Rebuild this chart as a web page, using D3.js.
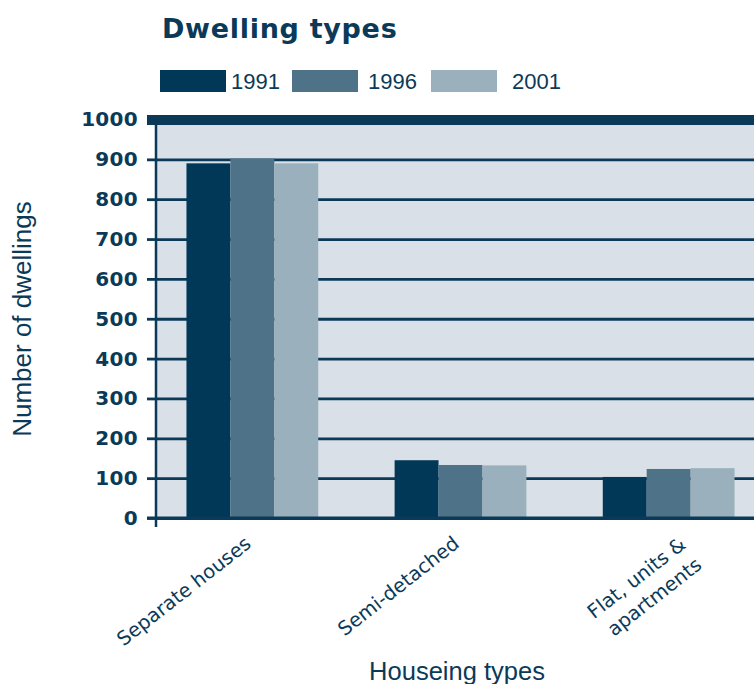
<!DOCTYPE html>
<html lang="en">
	<head>
		<meta charset="utf-8">
		<title>dwelling types</title>
		<script type="text/javascript" src="https://cdn.jsdelivr.net/npm/d3@7"></script>
		<style type="text/css">
			body { margin: 0; background: #fff; }
			.axis path { display: none; }
		</style>
	</head>

	<body>
		<script type="text/javascript">

			// chart size
			var w = 754;
			var h = 684;

			// data
			var categories = ["Separate houses", "Semi-detached", "Flat, units & apartments"];
			var years = ["1991", "1996", "2001"];
			var values1991 = [890, 145, 103];
			var values1996 = [902, 133, 123];
			var values2001 = [890, 132, 125];
			var yTicks = [0, 100, 200, 300, 400, 500, 600, 700, 800, 900, 1000];

			var colors = { "1991": "#013857", "1996": "#4e7288", "2001": "#9ab0bc" };
			var navy = "#0b3a58";

			var rows = categories.map(function(c, i) {
				return { cat: c, vals: [values1991[i], values1996[i], values2001[i]] };
			});

			var plotLeft = 156, plotRight = w;

			var yScale = d3.scaleLinear()
				.domain([0, 1000])
				.range([518, 119.5]);

			var xScale = d3.scaleBand()
				.domain(categories)
				.range([149, 772])
				.paddingInner(0.367)
				.paddingOuter(0.18);

			var x1 = d3.scaleBand()
				.domain(years)
				.range([0, xScale.bandwidth()]);

			var svg = d3.select("body")
				.append("svg")
				.attr("width", w)
				.attr("height", h);

			// plot background
			svg.append("rect")
				.attr("x", plotLeft)
				.attr("y", yScale(1000))
				.attr("width", plotRight - plotLeft)
				.attr("height", yScale(0) - yScale(1000))
				.attr("fill", "#d9e0e7");

			// gridlines
			var grid = svg.append("g")
				.attr("class", "axis")
				.attr("transform", "translate(" + plotLeft + ",0)")
				.call(d3.axisLeft(yScale).tickValues(yTicks).tickSize(-(plotRight - plotLeft)).tickFormat(""));
			grid.selectAll("line")
				.attr("stroke", navy)
				.attr("stroke-width", function(d) { return d === 1000 ? 10 : 2.8; });

			// bars
			var groups = svg.selectAll("g.group")
				.data(rows)
				.enter()
				.append("g")
				.attr("class", "group")
				.attr("transform", function(d) { return "translate(" + xScale(d.cat) + ",0)"; });

			groups.selectAll("rect")
				.data(function(d) { return d.vals.map(function(v, i) { return { year: years[i], v: v }; }); })
				.enter()
				.append("rect")
				.attr("x", function(d) { return x1(d.year); })
				.attr("y", function(d) { return yScale(d.v); })
				.attr("width", x1.bandwidth())
				.attr("height", function(d) { return yScale(0) - yScale(d.v); })
				.attr("fill", function(d) { return colors[d.year]; });

			// y axis with ticks and labels
			var yAxisG = svg.append("g")
				.attr("class", "axis")
				.attr("transform", "translate(" + plotLeft + ",0)")
				.call(d3.axisLeft(yScale).tickValues(yTicks).tickSize(9).tickPadding(9).tickFormat(d3.format("d")));
			yAxisG.selectAll("line")
				.attr("stroke", navy)
				.attr("stroke-width", function(d) { return d === 1000 ? 10 : 2.8; });
			yAxisG.selectAll("text")
				.attr("fill", navy)
				.style("font-family", "DejaVu Sans")
				.style("font-weight", "bold")
				.style("font-size", "20px")
				.style("letter-spacing", "0.3px");

			// vertical axis line
			svg.append("line")
				.attr("x1", plotLeft).attr("x2", plotLeft)
				.attr("y1", yScale(1000)).attr("y2", yScale(0) + 9)
				.attr("stroke", navy)
				.attr("stroke-width", 2.5);

			// baseline
			svg.append("line")
				.attr("x1", plotLeft - 9).attr("x2", plotRight)
				.attr("y1", yScale(0)).attr("y2", yScale(0))
				.attr("stroke", navy)
				.attr("stroke-width", 2.8);

			// x category labels
			var labelLines = [["Separate houses"], ["Semi-detached"], ["Flat, units &", "apartments"]];
			var xl = svg.append("g");
			categories.forEach(function(c, i) {
				var cx = xScale(c) + xScale.bandwidth() / 2;
				var multi = labelLines[i].length > 1;
				var t = xl.append("text")
					.attr("transform", "translate(" + cx + "," + 546 + ") rotate(-38)")
					.attr("text-anchor", "end")
					.attr("fill", navy)
					.style("font-family", "DejaVu Sans")
					.style("font-size", "19.5px");
				labelLines[i].forEach(function(line, j) {
					t.append("tspan")
						.attr("x", multi ? 14 : 0)
						.attr("y", multi ? 12 + j * 26 : 0)
						.text(line);
				});
			});

			// axis titles
			svg.append("text")
				.attr("x", 457)
				.attr("y", 680)
				.attr("text-anchor", "middle")
				.attr("fill", navy)
				.style("font-family", "Liberation Sans")
				.style("font-size", "25.5px")
				.text("Houseing types");

			svg.append("text")
				.attr("transform", "translate(31,319) rotate(-90)")
				.attr("text-anchor", "middle")
				.attr("fill", navy)
				.style("font-family", "Liberation Sans")
				.style("font-size", "26px")
				.text("Number of dwellings");

			// title
			svg.append("text")
				.attr("x", 162)
				.attr("y", 38)
				.attr("fill", navy)
				.style("font-family", "DejaVu Sans")
				.style("font-weight", "bold")
				.style("font-size", "27px")
				.style("letter-spacing", "0.7px")
				.text("Dwelling types");

			// legend
			var legendX = [160, 292, 431];
			var legendTextX = [231, 368, 512];
			var legend = svg.selectAll("g.legend")
				.data(years)
				.enter()
				.append("g")
				.attr("class", "legend");
			legend.append("rect")
				.attr("x", function(d, i) { return legendX[i]; })
				.attr("y", 70)
				.attr("width", 66)
				.attr("height", 22)
				.attr("fill", function(d) { return colors[d]; });
			legend.append("text")
				.attr("x", function(d, i) { return legendTextX[i]; })
				.attr("y", 88.5)
				.attr("fill", navy)
				.style("font-family", "Liberation Sans")
				.style("font-size", "22px")
				.text(function(d) { return d; });

		</script>
	</body>
</html>
